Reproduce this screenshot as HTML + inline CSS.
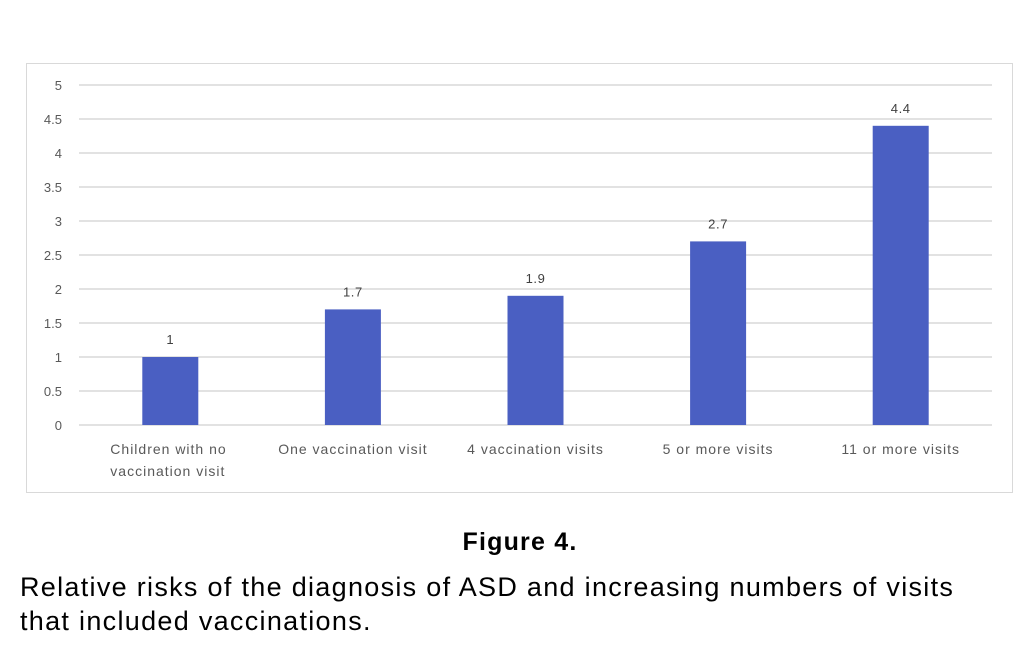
<!DOCTYPE html>
<html><head><meta charset="utf-8"><style>
body{margin:0;background:#fff;width:1024px;height:658px;overflow:hidden;font-family:"Liberation Sans",sans-serif}
#chart{position:absolute;left:26px;top:63px;width:987px;height:430px;border:1px solid #d9d9d9;box-sizing:border-box}
.t{position:absolute;color:#000}
</style></head><body>
<div id="chart"></div>
<svg id="svg" width="1024" height="658" style="position:absolute;left:0;top:0"></svg>
<div class="t" style="left:0;width:1040px;text-align:center;top:528px;font-size:25px;font-weight:bold;letter-spacing:1.2px">Figure 4.</div>
<div class="t" style="left:20px;top:570px;font-size:27px;letter-spacing:1.3px;line-height:34px;width:990px">Relative risks of the diagnosis of ASD and increasing numbers of visits that included vaccinations.</div>
<script>
const categories=[["Children with no","vaccination visit"],["One vaccination visit"],["4 vaccination visits"],["5 or more visits"],["11 or more visits"]];
const values=[1,1.7,1.9,2.7,4.4];
const valueLabels=["1","1.7","1.9","2.7","4.4"];
const ticks=[0,0.5,1,1.5,2,2.5,3,3.5,4,4.5,5];
const svg=document.getElementById('svg');const NS='http://www.w3.org/2000/svg';
const x0=79,x1=992,yb=425,yt=85,ymax=5;
const y=v=>yb-(v/ymax)*(yb-yt);
const band=(x1-x0)/categories.length;const xc=i=>x0+band*(i+0.5);
function mk(t,a,txt){const e=document.createElementNS(NS,t);for(const k in a)e.setAttribute(k,a[k]);if(txt!==undefined)e.textContent=txt;svg.appendChild(e);return e;}
ticks.forEach(v=>{
 const l=mk('line',{x1:x0,x2:x1,y1:y(v),y2:y(v),stroke:'#d9d9d9','stroke-width':1.5});
 
 const t=mk('text',{x:62,y:y(v)+5,'text-anchor':'end','font-size':13,fill:'#595959','font-family':'Liberation Sans, sans-serif'},String(v));
 
});
values.forEach((v,i)=>{
 const r=mk('rect',{x:xc(i)-28,y:y(v),width:56,height:yb-y(v),fill:'#4a5fc2'});
 
 const t=mk('text',{x:xc(i),y:y(v)-13,'text-anchor':'middle','font-size':13,fill:'#404040','font-family':'Liberation Sans, sans-serif','letter-spacing':0.6},valueLabels[i]);
 
 const multi=categories[i].length>1;
 categories[i].forEach((s,j)=>{
  const c=mk('text',{x:multi?xc(i)-60:xc(i),y:454+j*22,'text-anchor':multi?'start':'middle','font-size':14,fill:'#595959','letter-spacing':1,'font-family':'Liberation Sans, sans-serif'},s);
  
 });
});
</script>
</body></html>
